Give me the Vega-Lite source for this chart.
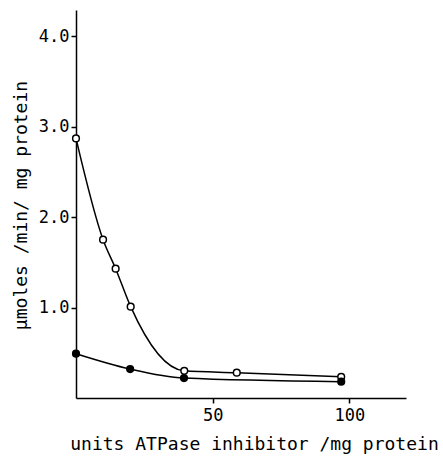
{
  "$schema": "https://vega.github.io/schema/vega-lite/v6.json",
  "autosize": {"type": "none"},
  "width": 330,
  "height": 388,
  "padding": {"left": 76, "top": 10, "right": 37, "bottom": 58},
  "background": "white",
  "config": {
    "view": {"stroke": null},
    "axis": {
      "grid": false,
      "domainColor": "black",
      "domainWidth": 1.5,
      "tickColor": "black",
      "tickWidth": 1.5,
      "tickSize": 5,
      "labelColor": "black",
      "labelFont": "DejaVu Sans Mono",
      "labelFontSize": 17,
      "titleColor": "black",
      "titleFont": "DejaVu Sans Mono",
      "titleFontSize": 18,
      "titleFontWeight": "normal"
    }
  },
  "data": {
    "values": [
      {"x": 0, "y": 2.87, "s": "open"},
      {"x": 9.9, "y": 1.75, "s": "open"},
      {"x": 14.5, "y": 1.43, "s": "open"},
      {"x": 20, "y": 1.01, "s": "open"},
      {"x": 39.6, "y": 0.3, "s": "open"},
      {"x": 58.8, "y": 0.28, "s": "open"},
      {"x": 97, "y": 0.235, "s": "open"},
      {"x": 0, "y": 0.49, "s": "filled"},
      {"x": 19.8, "y": 0.32, "s": "filled"},
      {"x": 39.5, "y": 0.22, "s": "filled"},
      {"x": 97, "y": 0.18, "s": "filled"}
    ]
  },
  "encoding": {
    "x": {
      "field": "x",
      "type": "quantitative",
      "scale": {"domain": [0, 120.7], "nice": false},
      "axis": {
        "values": [50, 100],
        "labelPadding": 4,
        "title": "units ATPase inhibitor /mg protein",
        "titleX": 178,
        "titleY": 46,
        "titleAlign": "center",
        "titleBaseline": "middle"
      }
    },
    "y": {
      "field": "y",
      "type": "quantitative",
      "scale": {"domain": [0, 4.29], "nice": false},
      "axis": {
        "values": [1, 2, 3, 4],
        "format": ".1f",
        "labelPadding": 2,
        "title": "µmoles /min/ mg protein",
        "titleAngle": 270,
        "titleX": -55,
        "titleY": 195,
        "titleAlign": "center",
        "titleBaseline": "middle"
      }
    }
  },
  "layer": [
    {
      "mark": {"type": "line", "interpolate": "monotone", "color": "black", "strokeWidth": 1.5},
      "encoding": {"detail": {"field": "s"}}
    },
    {
      "mark": {"type": "point", "filled": true, "stroke": "black", "strokeWidth": 1.5, "size": 45, "opacity": 1},
      "encoding": {
        "fill": {
          "field": "s",
          "type": "nominal",
          "scale": {"domain": ["open", "filled"], "range": ["white", "black"]},
          "legend": null
        }
      }
    }
  ]
}
